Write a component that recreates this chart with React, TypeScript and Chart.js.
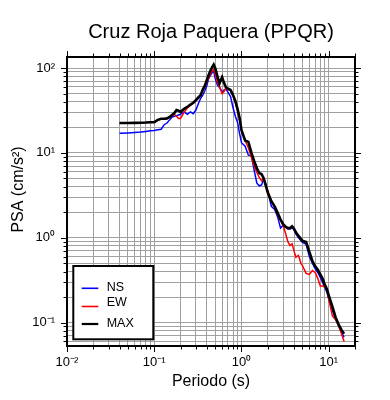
import React, { useEffect, useRef } from "react";
import { Chart, registerables } from "chart.js";

Chart.register(...registerables);

const FONT = "'Liberation Sans', Arial, Helvetica, sans-serif";

const chartTitle = "Cruz Roja Paquera (PPQR)";
const xAxisTitle = "Periodo (s)";
const yAxisTitle = "PSA (cm/s²)";

const seriesLabels = ["NS", "EW", "MAX"];
const seriesColors = ["#0000ff", "#ff0000", "#000000"];
const seriesWidths = [1.5, 1.5, 2.6];

const periods = [
  0.04, 0.05, 0.06, 0.07, 0.08, 0.09, 0.1, 0.11, 0.12, 0.13, 0.14, 0.15, 0.16, 0.17, 0.18, 0.19,
  0.2, 0.22, 0.24, 0.26, 0.28, 0.3, 0.32, 0.34, 0.36, 0.38, 0.4, 0.42, 0.44, 0.46, 0.48, 0.5,
  0.53, 0.56, 0.6, 0.63, 0.66, 0.7, 0.75, 0.8, 0.85, 0.9, 0.95, 1.0, 1.1, 1.2, 1.3, 1.4, 1.5,
  1.6, 1.7, 1.8, 1.9, 2.0, 2.2, 2.4, 2.6, 2.8, 3.0, 3.2, 3.4, 3.6, 3.8, 4.0, 4.2, 4.5, 4.8,
  5.0, 5.5, 6.0, 6.5, 7.0, 7.5, 8.0, 8.5, 9.0, 9.5, 10, 11, 12, 13, 14, 15,
];

const psaNS = [
  17.0, 17.2, 17.4, 17.6, 17.9, 18.2, 18.4, 18.7, 19.0, 21.5, 22.5, 24.5, 26.5, 27.0, 27.5, 28.0,
  28.5, 30.5, 28.5, 30.5, 29.0, 32.0, 38.0, 44.0, 48.0, 54.0, 62.0, 75.0, 82.0, 88.0, 92.0, 75.0,
  63.0, 59.0, 52.0, 55.0, 57.0, 52.0, 46.0, 34.0, 27.0, 23.0, 17.0, 13.2, 12.0, 9.4, 9.3, 6.2, 4.4,
  4.1, 4.2, 5.0, 4.3, 3.5, 2.35, 2.15, 1.75, 1.3, 1.4, 1.33, 1.28, 1.27, 1.32, 1.24, 1.11, 1.0, 0.93,
  0.88, 0.84, 0.6, 0.5, 0.43, 0.39, 0.34, 0.3, 0.26, 0.23, 0.19, 0.14, 0.11, 0.09, 0.077, 0.067,
];

const psaEW = [
  22.5, 22.5, 22.6, 22.7, 22.8, 23.0, 23.0, 24.3, 25.2, 25.2, 25.4, 26.3, 27.5, 28.5, 27.0, 25.5,
  25.5, 30.0, 34.0, 36.5, 38.5, 41.0, 44.0, 47.0, 54.0, 60.0, 68.0, 76.0, 85.0, 92.0, 97.0, 85.0,
  68.0, 60.0, 50.0, 53.0, 57.0, 56.5, 54.5, 47.5, 39.5, 31.5, 24.5, 18.5, 14.0, 11.5, 8.8, 7.0, 5.9,
  5.1, 4.7, 5.0, 4.2, 3.6, 2.7, 2.3, 1.85, 1.6, 1.4, 1.12, 0.9, 0.81, 0.85, 0.7, 0.59, 0.62, 0.5,
  0.47, 0.38, 0.37, 0.41, 0.39, 0.33, 0.27, 0.27, 0.265, 0.25, 0.19, 0.12, 0.108, 0.092, 0.074, 0.06,
];

const psaMAX = [
  22.5, 22.5, 22.6, 22.7, 22.8, 23.0, 23.0, 24.5, 25.3, 25.3, 25.5, 26.5, 28.0, 29.5, 32.0, 31.5,
  30.5, 33.0, 35.0, 37.0, 39.0, 42.0, 45.0, 48.0, 56.0, 62.0, 72.0, 83.0, 93.0, 102.0, 110.0, 100.0,
  80.0, 66.0, 78.0, 67.0, 60.0, 57.0, 55.0, 48.0, 41.0, 33.0, 26.0, 18.5, 14.0, 13.5, 10.0, 8.0, 6.6,
  5.8, 5.6, 5.0, 4.1, 3.4, 2.7, 2.35, 1.95, 1.65, 1.45, 1.35, 1.3, 1.3, 1.36, 1.28, 1.16, 1.05, 0.97,
  0.92, 0.89, 0.68, 0.53, 0.46, 0.42, 0.37, 0.33, 0.28, 0.25, 0.21, 0.155, 0.115, 0.095, 0.082, 0.074,
];

const seriesValues = [psaNS, psaEW, psaMAX];

const xRange = [0.01, 20];
const yRange = [0.053, 135];
const xDecades = [0.01, 0.1, 1, 10];
const yDecades = [0.01, 0.1, 1, 10, 100];
const multipliers = [1, 2, 3, 4, 5, 6, 7, 8, 9];

const supDigits: Record<string, string> = {
  "-": "⁻", "0": "⁰", "1": "¹", "2": "²", "3": "³", "4": "⁴", "5": "⁵", "6": "⁶", "7": "⁷", "8": "⁸", "9": "⁹",
};

const isDecade = (v: number) => {
  const l = Math.log10(v);
  return Math.abs(l - Math.round(l)) < 1e-6;
};
const powerLabel = (v: number) =>
  "10" + String(Math.round(Math.log10(v))).split("").map((c) => supDigits[c] || c).join("");

const gridValues = (decades: number[], lo: number, hi: number) =>
  decades
    .flatMap((d) => multipliers.map((m) => +(d * m).toPrecision(6)))
    .filter((v) => v >= lo * 0.99999 && v <= hi * 1.00001);

const xTicks = gridValues(xDecades, xRange[0], xRange[1]);
const yTicks = gridValues(yDecades, yRange[0], yRange[1]);

const framePlugin = {
  id: "gmtFrame",
  afterDraw(chart: any) {
    const { ctx, chartArea: a, scales } = chart;
    ctx.save();
    ctx.strokeStyle = "#000";
    ctx.lineWidth = 1;
    ctx.beginPath();
    for (const t of scales.x.ticks) {
      const px = Math.round(scales.x.getPixelForValue(t.value)) + 0.5;
      const len = isDecade(t.value) ? 6 : 3.5;
      ctx.moveTo(px, a.bottom);
      ctx.lineTo(px, a.bottom + len);
      ctx.moveTo(px, a.top);
      ctx.lineTo(px, a.top - len);
    }
    for (const t of scales.y.ticks) {
      const py = Math.round(scales.y.getPixelForValue(t.value)) + 0.5;
      const len = isDecade(t.value) ? 6 : 3.5;
      ctx.moveTo(a.left, py);
      ctx.lineTo(a.left - len, py);
      ctx.moveTo(a.right, py);
      ctx.lineTo(a.right + len, py);
    }
    ctx.stroke();

    ctx.lineWidth = 2;
    ctx.strokeRect(a.left, a.top, a.right - a.left, a.bottom - a.top);

    // y axis title, placed as in the reference (slightly above centre)
    ctx.save();
    ctx.translate(19, (a.top + a.bottom) / 2 - 12);
    ctx.rotate(-Math.PI / 2);
    ctx.font = `16px ${FONT}`;
    ctx.fillStyle = "#000";
    ctx.textAlign = "center";
    ctx.textBaseline = "middle";
    ctx.fillText(yAxisTitle, 0, 0);
    ctx.restore();

    // legend box
    const bx = a.left + 6.3;
    const by = a.bottom - 80;
    const bw = 80;
    const bh = 73.3;
    ctx.fillStyle = "#fff";
    ctx.fillRect(bx, by, bw, bh);
    ctx.lineWidth = 2;
    ctx.strokeStyle = "#000";
    ctx.strokeRect(bx, by, bw, bh);
    const textRows = [21.8, 36.8, 57.7];
    const lineRows = [22.3, 40.5, 58];
    ctx.font = `12.5px ${FONT}`;
    ctx.textBaseline = "middle";
    ctx.textAlign = "left";
    seriesLabels.forEach((lab, i) => {
      ctx.strokeStyle = seriesColors[i];
      ctx.lineWidth = i === 2 ? 2.2 : 1.6;
      ctx.beginPath();
      ctx.moveTo(bx + 8.4, by + lineRows[i]);
      ctx.lineTo(bx + 25, by + lineRows[i]);
      ctx.stroke();
      ctx.fillStyle = "#000";
      ctx.fillText(lab, bx + 33.4, by + textRows[i]);
    });
    ctx.restore();
  },
};

export default function App() {
  const ref = useRef<HTMLCanvasElement | null>(null);
  useEffect(() => {
    if (!ref.current) return;
    const datasets = seriesLabels.map((lab, i) => ({
      label: lab,
      data: periods.map((t, k) => ({ x: t, y: seriesValues[i][k] })),
      borderColor: seriesColors[i],
      backgroundColor: seriesColors[i],
      borderWidth: seriesWidths[i],
      pointRadius: 0,
      tension: 0,
      fill: false,
      order: 2 - i,
    }));
    const chart = new Chart(ref.current, {
      type: "line",
      data: { datasets },
      options: {
        animation: false,
        responsive: true,
        maintainAspectRatio: false,
        events: [],
        layout: { padding: { left: 0, right: 35, top: 0, bottom: 0 } },
        plugins: {
          legend: { display: false },
          tooltip: { enabled: false },
          title: {
            display: true,
            text: chartTitle,
            fullSize: false,
            color: "#000",
            font: { family: FONT, size: 20, weight: "normal" },
            padding: { top: 20.5, bottom: 12.5 },
          },
        },
        scales: {
          x: {
            type: "logarithmic",
            min: xRange[0],
            max: xRange[1],
            afterBuildTicks: (s: any) => {
              s.ticks = xTicks.map((v) => ({ value: v }));
            },
            afterFit: (s: any) => {
              s.height = 54;
            },
            grid: { color: "#a0a0a0", lineWidth: 1, drawTicks: false },
            border: { display: false },
            ticks: {
              autoSkip: false,
              maxRotation: 0,
              padding: 9,
              color: "#000",
              font: { family: FONT, size: 13 },
              callback: (v: any) => (isDecade(Number(v)) ? powerLabel(Number(v)) : ""),
            },
            title: {
              display: true,
              text: xAxisTitle,
              color: "#000",
              font: { family: FONT, size: 16 },
              padding: { top: 0, bottom: 8.5 },
            },
          },
          y: {
            type: "logarithmic",
            min: yRange[0],
            max: yRange[1],
            afterBuildTicks: (s: any) => {
              s.ticks = yTicks.map((v) => ({ value: v }));
            },
            afterFit: (s: any) => {
              s.width = 67;
            },
            grid: { color: "#a0a0a0", lineWidth: 1, drawTicks: false },
            border: { display: false },
            ticks: {
              autoSkip: false,
              padding: 12,
              color: "#000",
              font: { family: FONT, size: 13 },
              callback: (v: any) => (isDecade(Number(v)) ? powerLabel(Number(v)) : ""),
            },
            title: { display: false, text: yAxisTitle },
          },
        },
      },
      plugins: [framePlugin],
    });
    return () => chart.destroy();
  }, []);
  return (
    <div style={{ position: "fixed", left: 0, top: 0, width: 390, height: 400, background: "#fff" }}>
      <canvas ref={ref} />
    </div>
  );
}
